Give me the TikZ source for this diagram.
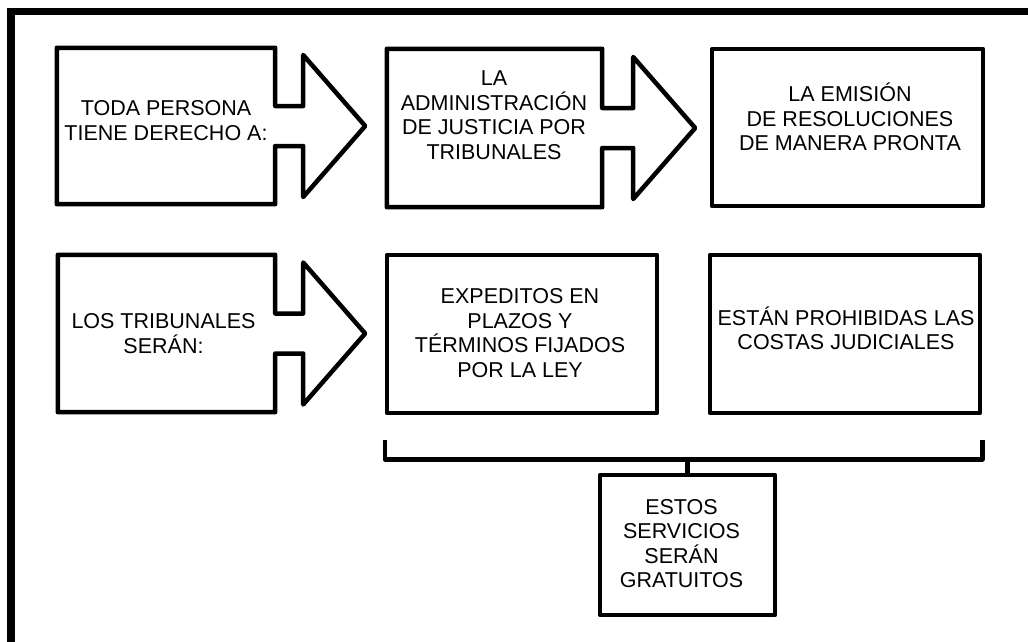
\documentclass[tikz,border=0pt]{standalone}
\usepackage{fontspec}
\setmainfont{Liberation Sans}

\tikzset{
	borde/.style={line width=4.5pt, line join=round},
	caja/.style={draw, borde, inner sep=0pt},
	hueco/.style={inner sep=0pt},
	texto/.style={align=center, inner sep=0pt, font=\fontsize{21.5}{24.5}\selectfont},
}

% contorno de caja con flecha a la derecha: #1 nodo, #2 largo del tallo
\newcommand{\flechacaja}[2]{%
	\draw[borde] (#1.east) ++(0,-20) -- ++(#2,0) -- ++(0,-51) -- ++(62,71) -- ++(-62,71) -- ++(0,-51) -- ++(-#2,0)
	-- (#1.south east) -- (#1.south west) -- (#1.north west) -- (#1.north east) -- cycle;}

\begin{document}
\begin{tikzpicture}[x=1pt,y=-1pt]
	\path[use as bounding box, fill=white] (0,0) rectangle (1028,642);
	\draw[line width=7.5pt] (11,642) -- (11,11.5) -- (1028,11.5);

	% fila 1
	\path (166,126) node(toda)[hueco, minimum width=218, minimum height=156]{}
	(494.5,128) node(admin)[hueco, minimum width=215, minimum height=158]{}
	(847.5,127.5) node(emision)[caja, minimum width=271, minimum height=157]{};
	\path (166,120.5) node(toda-t)[texto]{TODA PERSONA\\TIENE DERECHO A:}
	(494,115) node(admin-t)[texto]{LA\\ADMINISTRACIÓN\\DE JUSTICIA POR\\TRIBUNALES}
	(850,117) node(emision-t)[texto]{LA EMISIÓN\\DE RESOLUCIONES\\DE MANERA PRONTA};
	\flechacaja{toda}{28}
	\flechacaja{admin}{31}

	% fila 2
	\path (166.5,333.5) node(tribunales)[hueco, minimum width=217, minimum height=157]{}
	(522,334) node(expeditos)[caja, minimum width=270, minimum height=158]{}
	(845,334) node(costas)[caja, minimum width=270, minimum height=158]{}
	(687.5,545) node(gratuitos)[caja, minimum width=175, minimum height=140]{};
	\path (163.5,333.5) node(tribunales-t)[texto]{LOS TRIBUNALES\\SERÁN:}
	(520,333) node(expeditos-t)[texto]{EXPEDITOS EN\\PLAZOS Y\\TÉRMINOS FIJADOS\\POR LA LEY}
	(846,328.5) node(costas-t)[texto]{ESTÁN PROHIBIDAS LAS\\COSTAS JUDICIALES}
	(681.5,543.5) node(gratuitos-t)[texto]{ESTOS\\SERVICIOS\\SERÁN\\GRATUITOS};
	\flechacaja{tribunales}{28}

	% llave
	\coordinate (llave-izq) at ([yshift=-25pt]expeditos.south west);
	\coordinate (llave-der) at ([yshift=-25pt]costas.south east);
	\draw[borde] (llave-izq) -- ++(0,19) coordinate(llave) -| (llave-der);
	\draw[borde] (gratuitos.north) -- (gratuitos.north |- llave);
\end{tikzpicture}
\end{document}
